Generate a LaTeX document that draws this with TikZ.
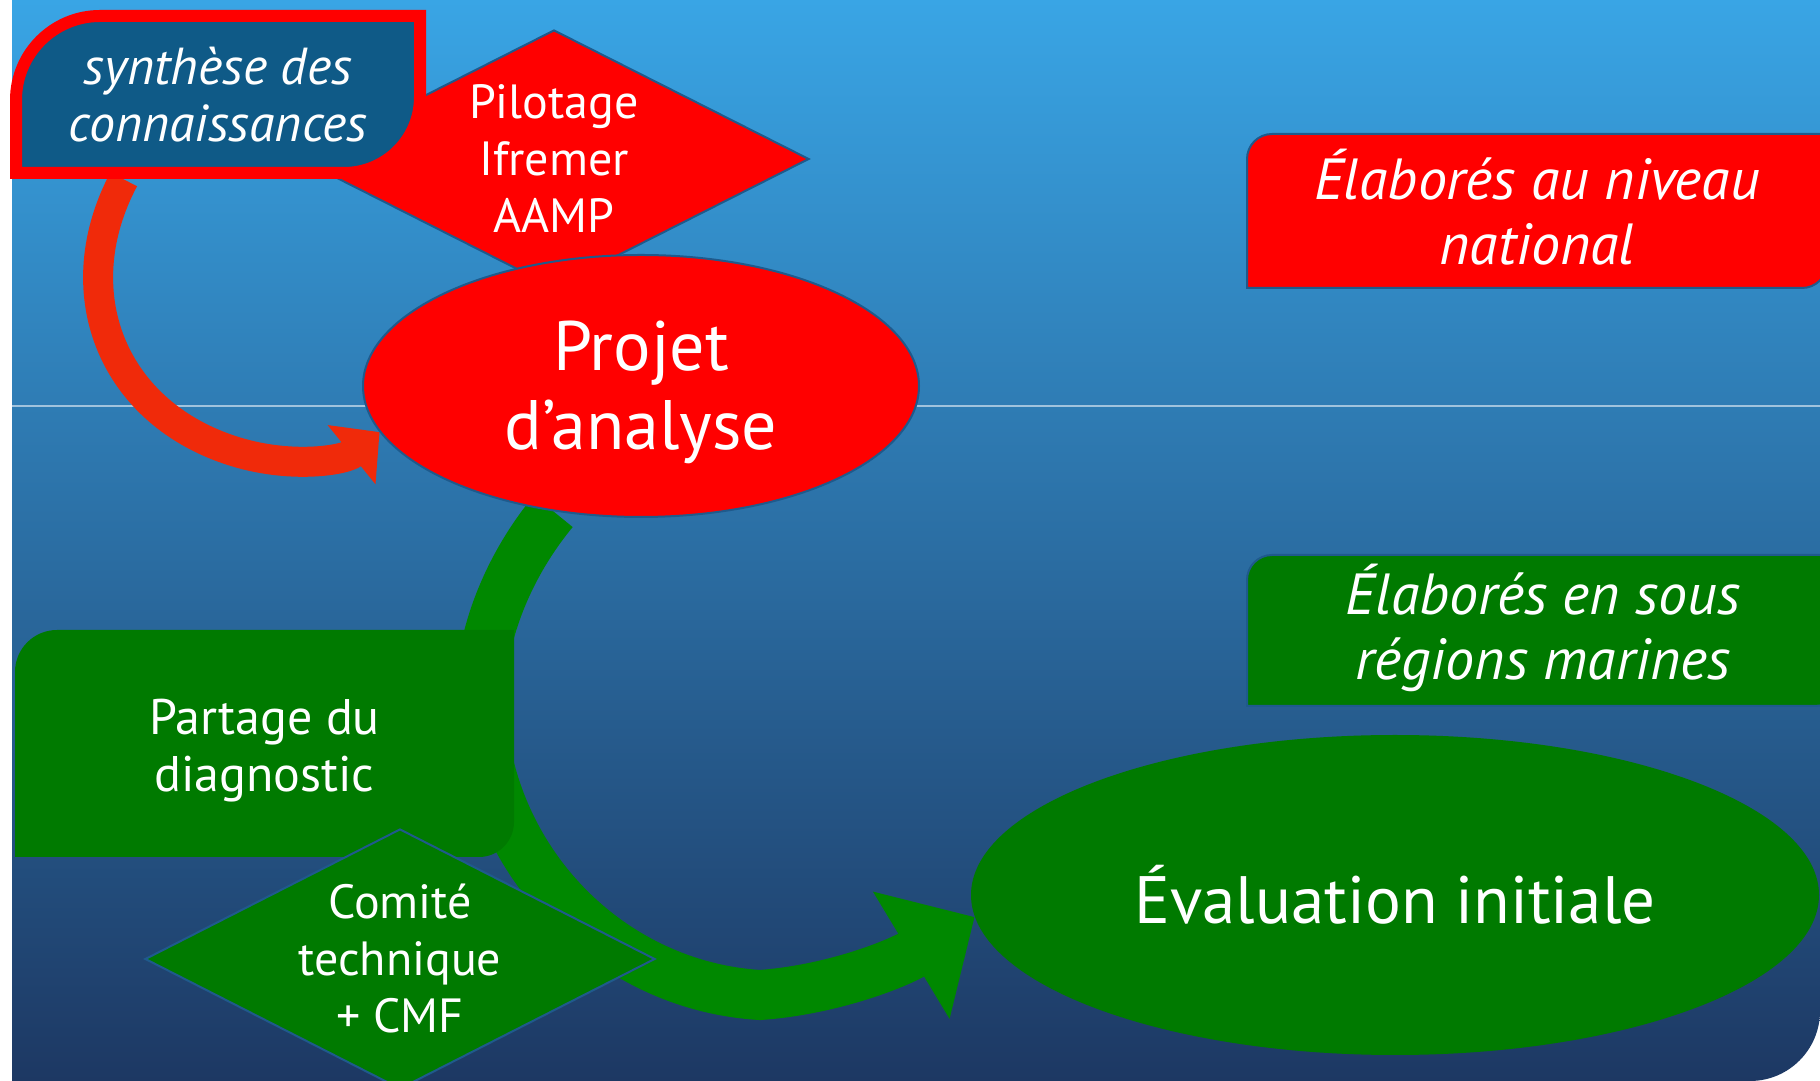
\documentclass[tikz,border=0pt]{standalone}
\usepackage{fontspec}
\setmainfont{PT Sans}
\usetikzlibrary{shapes.geometric,arrows.meta}
\definecolor{bgtop}{RGB}{57,165,229}
\definecolor{bgmid}{RGB}{44,122,182}
\definecolor{bgbot}{RGB}{29,56,99}
\definecolor{synthblue}{RGB}{15,90,135}
\definecolor{boxgreen}{RGB}{0,122,0}
\definecolor{edgeblue}{RGB}{31,90,140}
\definecolor{arrowred}{RGB}{240,42,10}
\definecolor{arrowgreen}{RGB}{0,136,0}
\pgfdeclarelayer{backdrop}
\pgfdeclarelayer{arrows}
\pgfsetlayers{backdrop,arrows,main}
%% panel with rounded top left and bottom right corners
%% #1 style, #2 left, #3 bottom, #4 right, #5 top, #6 radius top left, #7 radius bottom right
\newcommand\roundpanel[7]{%
\filldraw[#1](#2,#3)--(#2,#5-#6)arc[start angle=180,end angle=90,radius=#6]--(#4,#5)
--(#4,#3+#7)arc[start angle=0,end angle=-90,radius=#7]--cycle;}
\begin{document}
\begin{tikzpicture}[x=0.5pt,y=0.5pt,
lbl/.style={%
text=white,
align=center,
inner sep=0pt
},
rhombus/.style={%
diamond,
draw=edgeblue,
line width=1pt,
inner sep=-20pt,
minimum width=255pt,
minimum height=129pt,
text=white,
align=center,
font=\fontsize{24}{28.5}\selectfont
},
oval/.style={%
ellipse,
text=white,
align=center,
inner sep=0pt
},
redarrow/.style={%
draw=arrowred,
line width=15pt,
-{Triangle[length=18pt,width=37pt]}
},
greenarrow/.style={%
draw=arrowgreen,
line width=25pt,
-{Triangle[length=37pt,width=72pt]}
},
]
\useasboundingbox(0,0)rectangle(1820,1081);
%% Background
\begin{pgfonlayer}{backdrop}
\shade[top color=bgtop,middle color=bgmid,bottom color=bgbot]
(12,0)--(1750,0)arc[start angle=-90,end angle=0,radius=70]--(1820,1081)--(12,1081)--cycle;
\draw[white,opacity=0.55,line width=0.75pt](12,675)--(1820,675);
\end{pgfonlayer}
%% national level
\node[rhombus,fill=red](pilot)at(554,922){Pilotage\\Ifremer\\AAMP};
\roundpanel{fill=synthblue,draw=red,line width=6pt}{16}{908}{420}{1065}{84}{76}
\node[lbl,minimum width=208pt,minimum height=84.5pt,
font=\itshape\fontsize{26}{28.5}\selectfont](synth)at(218,986.5){synthèse des\\connaissances};
\node[oval,fill=red,draw=edgeblue,line width=1pt,font=\fontsize{35}{39.5}\selectfont,
minimum width=278pt,minimum height=131pt](projet)at(641,695){\rule{0pt}{31.5pt}Projet\\d’analyse};
%% sub-regions
\roundpanel{fill=boxgreen,draw=none}{15}{224}{514}{451}{42}{35}
\node[lbl,minimum width=249.5pt,minimum height=113.5pt,
font=\fontsize{25}{28.5}\selectfont](partage)at(264.5,330){Partage du\\diagnostic};
\node[rhombus,fill=boxgreen,minimum height=130pt](comite)at(400,122){Comité\\technique\\+ CMF};
\node[oval,fill=boxgreen,minimum width=424pt,minimum height=160pt,
font=\fontsize{33.5}{38.5}\selectfont](evalu)at(1395,186){Évaluation initiale};
%% legend
\roundpanel{fill=red,draw=edgeblue,line width=1pt}{1247}{793}{1827}{947}{25}{25}
\node[lbl,font=\itshape\fontsize{29}{32.5}\selectfont](national)at(1537,874){Élaborés au niveau\\national};
\roundpanel{fill=boxgreen,draw=edgeblue,line width=1pt}{1247}{375}{1840}{526}{25}{25}
\node[lbl,font=\itshape\fontsize{29}{32.5}\selectfont](regional)at(1543,453){Élaborés en sous\\régions marines};
%% arrows
\begin{pgfonlayer}{arrows}
\draw[redarrow](synth.222)..controls(65,791)and(110,671)..(230,631)
..controls(290,611)and(345,621)..(projet.190);
\draw[greenarrow](projet.235)..controls(505,511)and(480,441)..(480,381)
..controls(485,220)and(610,95)..(760,86)
..controls(830,91)and(895,116)..(evalu.183);
\end{pgfonlayer}
\end{tikzpicture}
\end{document}
